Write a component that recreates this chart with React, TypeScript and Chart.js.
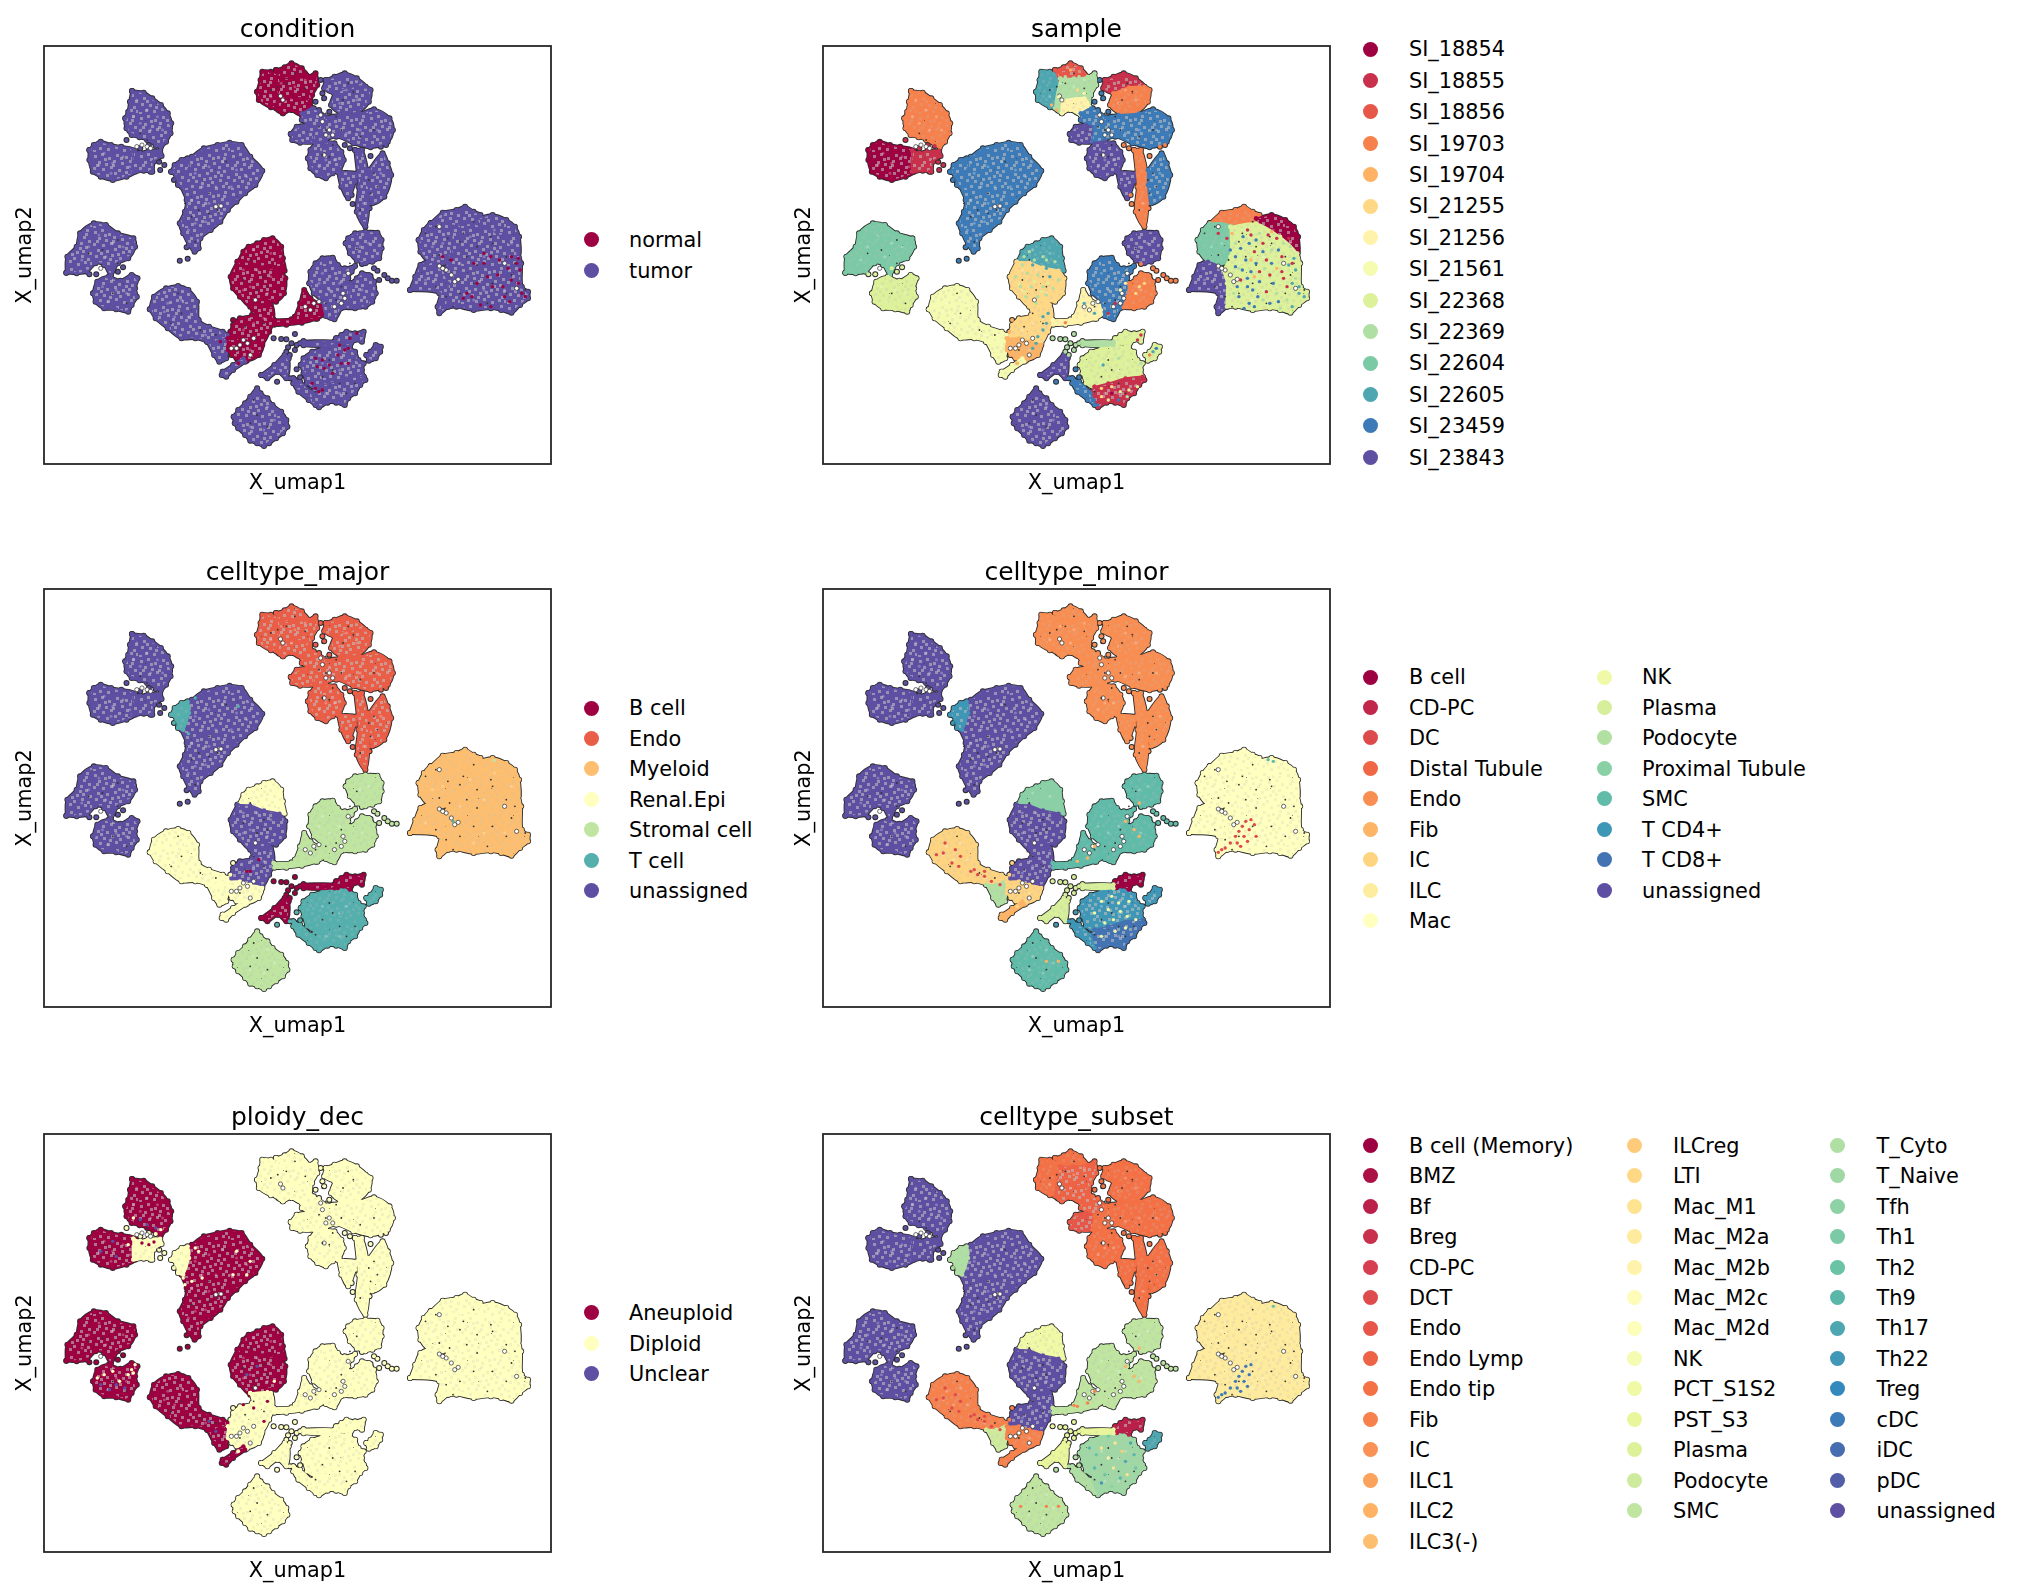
import React, { useEffect, useRef } from "react";
import { Chart, registerables } from "chart.js";

Chart.register(...registerables);

type P = number[];

// ---------- categories ----------
const conditionCats = ["normal", "tumor"];
const sampleCats = ["SI_18854", "SI_18855", "SI_18856", "SI_19703", "SI_19704", "SI_21255", "SI_21256", "SI_21561", "SI_22368", "SI_22369", "SI_22604", "SI_22605", "SI_23459", "SI_23843"];
const majorCats = ["B cell", "Endo", "Myeloid", "Renal.Epi", "Stromal cell", "T cell", "unassigned"];
const minorCats = ["B cell", "CD-PC", "DC", "Distal Tubule", "Endo", "Fib", "IC", "ILC", "Mac", "NK", "Plasma", "Podocyte", "Proximal Tubule", "SMC", "T CD4+", "T CD8+", "unassigned"];
const ploidyCats = ["Aneuploid", "Diploid", "Unclear"];
const subsetCats = ["B cell (Memory)", "BMZ", "Bf", "Breg", "CD-PC", "DCT", "Endo", "Endo Lymp", "Endo tip", "Fib", "IC", "ILC1", "ILC2", "ILC3(-)", "ILCreg", "LTI", "Mac_M1", "Mac_M2a", "Mac_M2b", "Mac_M2c", "Mac_M2d", "NK", "PCT_S1S2", "PST_S3", "Plasma", "Podocyte", "SMC", "T_Cyto", "T_Naive", "Tfh", "Th1", "Th2", "Th9", "Th17", "Th22", "Treg", "cDC", "iDC", "pDC", "unassigned"];

// ---------- cell-cloud silhouettes (UMAP plane, y downward) ----------
const tu1: P[] = [[296,183],[330,188],[355,205],[380,225],[400,250],[410,280],[408,310],[395,335],[380,352],[365,345],[340,330],[318,322],[295,315],[280,295],[276,265],[285,245],[290,215]];
const tu2a: P[] = [[172,360],[185,345],[205,335],[235,345],[265,350],[305,362],[305,425],[280,440],[240,450],[205,440],[182,425],[172,390]];
const tu2b: P[] = [[300,362],[320,368],[345,362],[378,362],[382,378],[360,395],[355,425],[330,422],[300,425]];
const tu3: P[] = [[440,405],[470,380],[505,355],[545,345],[580,338],[615,345],[640,380],[675,422],[655,465],[625,490],[600,515],[575,540],[553,575],[525,600],[495,625],[490,655],[478,665],[462,645],[445,610],[435,580],[450,545],[455,510],[440,470]];
const nub: P[] = [[410,425],[420,405],[440,390],[458,385],[462,420],[445,470],[430,465],[425,440]];
const tu4: P[] = [[105,728],[108,680],[135,650],[145,610],[185,580],[220,585],[255,610],[300,625],[305,650],[285,685],[255,700],[235,735],[215,705],[190,700],[165,725],[135,730]];
const tu5: P[] = [[183,790],[195,755],[228,740],[262,752],[295,735],[312,745],[305,775],[310,800],[295,825],[285,845],[250,838],[215,835],[190,815]];
const tu6a: P[] = [[348,838],[360,800],[395,775],[430,768],[460,780],[485,815],[490,870],[520,890],[560,905],[575,915],[570,935],[535,945],[515,935],[480,925],[440,925],[400,895],[365,865]];
const tu6b: P[] = [[515,935],[545,935],[572,925],[570,985],[550,995],[535,975]];
const k1: P[] = [[605,695],[620,665],[635,650],[660,640],[680,630],[705,625],[730,650],[735,685],[740,722],[700,715],[660,705],[630,697]];
const k2: P[] = [[603,695],[640,697],[680,712],[725,722],[742,745],[738,790],[715,815],[695,815],[700,835],[640,830],[610,800],[590,775],[583,740]];
const k3: P[] = [[640,825],[700,825],[708,870],[695,905],[675,940],[640,935],[610,925],[583,925],[590,885],[610,865],[645,855]];
const k4: P[] = [[575,925],[610,925],[640,935],[675,945],[665,975],[630,992],[600,985],[575,960]];
const k5: P[] = [[560,1025],[590,1005],[620,985],[625,995],[590,1020],[570,1040],[557,1035]];
const s1: P[] = [[708,870],[760,868],[795,860],[830,848],[830,866],[790,878],[745,884],[710,884]];
const s2: P[] = [[770,860],[785,820],[797,780],[815,805],[845,825],[860,845],[835,866],[800,868],[770,870]];
const s3: P[] = [[812,760],[815,725],[830,700],[850,685],[880,683],[895,705],[915,715],[945,708],[935,725],[925,745],[930,775],[925,800],[905,835],[885,868],[860,858],[848,815],[825,790]];
const s4: P[] = [[930,760],[950,745],[965,730],[985,735],[1000,755],[1005,790],[995,815],[975,830],[945,835],[915,832],[925,800]];
const s5: P[] = [[918,640],[925,625],[945,610],[975,605],[1010,608],[1022,630],[1022,655],[1015,685],[995,695],[975,700],[950,692],[930,670]];
const bot: P[] = [[592,1160],[605,1140],[625,1120],[640,1100],[660,1075],[670,1090],[690,1105],[705,1125],[730,1145],[745,1170],[748,1190],[735,1210],[715,1225],[695,1240],[680,1248],[660,1240],[640,1232],[625,1215],[605,1195],[595,1180]];
const t1a: P[] = [[787,1005],[795,985],[820,965],[850,955],[880,948],[920,950],[945,965],[955,990],[970,1000],[965,1020],[970,1040],[920,1050],[870,1065],[830,1075],[805,1060],[795,1030]];
const t1b: P[] = [[830,1070],[870,1060],[920,1045],[970,1040],[975,1050],[960,1065],[945,1090],[925,1105],[915,1125],[890,1118],[865,1118],[840,1132],[820,1110],[815,1095]];
const t2: P[] = [[765,1045],[785,1055],[815,1085],[830,1125],[810,1110],[780,1085],[765,1060]];
const b1: P[] = [[890,925],[905,915],[920,905],[945,910],[970,905],[965,935],[945,930],[930,950],[910,940],[895,945]];
const b2: P[] = [[795,934],[885,934],[885,946],[795,946]];
const b3: P[] = [[672,1035],[710,1005],[740,975],[752,985],[745,1045],[720,1026],[690,1045]];
const t3: P[] = [[978,975],[990,965],[1005,945],[1020,950],[1018,965],[1005,985],[985,992]];
const e1a: P[] = [[660,185],[670,150],[675,125],[700,125],[730,140],[735,190],[720,230],[700,232],[665,210]];
const e1b: P[] = [[715,120],[740,112],[760,100],[790,115],[810,145],[770,150],[730,150]];
const e1c: P[] = [[730,145],[770,145],[810,140],[830,130],[835,165],[820,195],[815,230],[790,255],[760,240],[735,225],[735,250],[715,235]];
const e1d: P[] = [[735,210],[800,205],[815,230],[790,255],[760,240],[735,250]];
const e2a: P[] = [[860,150],[885,140],[915,130],[950,145],[975,170],[930,175],[885,190],[855,175]];
const e2b: P[] = [[885,190],[930,172],[975,170],[990,180],[985,215],[955,245],[905,250],[875,225]];
const e3a: P[] = [[790,250],[820,235],[865,265],[880,300],[835,300],[805,282],[790,270]];
const e3b: P[] = [[758,312],[775,290],[805,285],[835,300],[830,335],[785,338],[762,330]];
const e3c: P[] = [[830,295],[865,262],[900,255],[960,250],[1000,238],[1045,265],[1055,300],[1040,335],[990,352],[940,340],[890,320],[860,330],[825,335]];
const e4: P[] = [[808,385],[815,360],[830,340],[860,335],[885,340],[905,365],[912,390],[900,420],[880,430],[860,445],[835,435],[815,415]];
const e5: P[] = [[895,425],[950,430],[945,455],[925,505],[905,470]];
const e6a: P[] = [[945,360],[965,360],[985,450],[985,520],[975,590],[950,545],[955,470]];
const e6b: P[] = [[985,420],[1025,370],[1040,400],[1050,435],[1030,500],[995,520],[985,465]];
const mTop: P[] = [[1165,580],[1200,548],[1240,540],[1265,530],[1290,545],[1310,555],[1300,590],[1230,595],[1180,600]];
const mRed: P[] = [[1300,565],[1345,555],[1385,570],[1410,590],[1422,620],[1420,680],[1370,640],[1310,610]];
const mLeft: P[] = [[1130,630],[1145,600],[1165,580],[1230,590],[1240,650],[1235,700],[1200,700],[1160,695],[1135,665]];
const mWedge: P[] = [[1105,780],[1120,740],[1135,705],[1160,695],[1200,715],[1230,770],[1235,800],[1215,830],[1190,850],[1185,830],[1190,790]];
const mMain: P[] = [[1225,590],[1300,580],[1370,620],[1420,670],[1428,700],[1430,770],[1448,785],[1448,805],[1425,825],[1400,848],[1370,840],[1340,835],[1290,840],[1240,830],[1215,830],[1215,760],[1205,720],[1225,680]];
const regions = [tu1, tu2a, tu2b, tu3, nub, tu4, tu5, tu6a, tu6b, k1, k2, k3, k4, k5, s1, s2, s3, s4, s5, bot, t1a, t1b, t2, b1, b2, b3, t3, e1a, e1b, e1c, e1d, e2a, e2b, e3a, e3b, e3c, e4, e5, e6a, e6b, mTop, mRed, mLeft, mWedge, mMain];

// category of each silhouette in each panel
const conditionCodes = [1,1,1,1,1,1,1,1,1, 0,0,0,0,1, 0,0,1,1,1,1, 1,1,1,1,1,1,1, 0,0,0,0, 1,1,1,1,1,1,1,1,1, 1,1,1,1,1];
const sampleCodes = [3,0,1,12,12,10,8,7,7, 11,5,5,4,7, 6,6,12,3,13,13, 8,1,12,8,9,13,8, 11,2,9,6, 1,3,12,13,12,13,13,3,12, 3,0,10,13,8];
const majorCodes = [6,6,6,6,5,6,6,3,3, 3,6,6,3,3, 4,4,4,4,4,4, 5,5,5,0,0,0,5, 1,1,1,1, 1,1,1,1,1,1,1,1,1, 2,2,2,2,2];
const minorCodes = [16,16,16,16,14,16,16,6,11, 12,16,16,6,5, 13,13,13,13,13,13, 14,15,14,0,10,10,14, 4,4,4,4, 4,4,4,4,4,4,4,4,4, 8,8,8,8,8];
const ploidyCodes = [0,0,1,0,1,0,0,0,0, 0,0,1,1,0, 1,1,1,1,1,1, 1,1,1,1,1,1,1, 1,1,1,1, 1,1,1,1,1,1,1,1,1, 1,1,1,1,1];
const subsetCodes = [39,39,39,39,27,39,39,9,25, 22,39,39,9,9, 26,26,26,26,26,26, 28,28,27,2,23,23,33, 8,8,7,7, 8,8,7,6,8,8,8,8,8, 17,17,17,17,17];

// stray cells and the silhouette whose category they take
const strayTu2: P[] = [[280,330],[320,355],[345,345],[378,420],[375,395],[390,405],[350,425],[365,348]];
const strayTu3: P[] = [[455,652],[435,692],[458,686]];
const strayTu5: P[] = [[172,733],[192,733],[255,725],[270,712],[240,715]];
const strayS: P[] = [[1000,715],[1010,722],[1015,750],[1030,735],[1040,745],[1052,752],[1066,752],[965,702],[990,738]];
const strayB: P[] = [[708,925],[730,927],[745,928],[770,912],[760,940],[775,945],[750,952],[745,965],[755,975],[785,940],[770,960]];
const strayT: P[] = [[775,1018],[785,1042],[768,1048],[718,1055],[755,1045],[800,1095]];
const strayE: P[] = [[990,378],[938,522],[935,495],[972,580],[987,535],[930,355],[915,345],[1020,350],[1035,345]];
const strayE3: P[] = [[845,150],[850,190],[830,215],[840,240],[870,245],[880,260],[825,235],[855,205]];
const strayK: P[] = [[590,870],[582,905],[575,950],[585,975],[600,960],[605,1000]];
const strayNub: P[] = [[418,450],[430,462]];
const strayGroups: [P[], number][] = [[strayTu2,2],[strayTu3,3],[strayTu5,6],[strayS,17],[strayB,24],[strayT,22],[strayE,38],[strayE3,35],[strayK,12],[strayNub,4]];

// cells shown inside the clouds: dark gaps, pale cells, white gaps
const gapCells: P[] = [[1180,590],[1215,625],[1250,635],[1290,575],[1340,620],[1345,640],[1270,680],[1300,705],[1220,690],[1190,675],[1385,680],[1410,700],[1400,735],[1385,790],[1345,760],[1290,760],[1250,790],[1210,800],[1180,770],[1230,830],[1330,820],[1440,780],[1150,610],[1260,610],[1300,650],[700,180],[720,170],[745,160],[770,130],[800,175],[850,210],[860,250],[890,260],[840,290],[860,300],[880,345],[850,375],[870,380],[925,160],[940,185],[910,210],[1000,300],[960,320],[905,300],[985,450],[1000,430],[990,490],[1010,470],[960,540],[640,690],[680,740],[660,780],[690,770],[620,750],[650,850],[680,880],[625,890],[610,960],[905,770],[890,810],[830,830],[860,820],[930,700],[950,655],[650,1110],[660,1155],[690,1190],[640,1180],[850,1040],[880,1020],[900,1060],[830,1085],[870,990],[920,1090],[945,1060],[340,330],[320,310],[210,660],[170,670],[255,630],[255,700],[240,790],[280,820],[450,520],[490,540],[520,550],[545,540],[470,560],[480,635],[570,395],[520,490],[430,790],[440,850],[410,880],[495,900],[540,915],[375,390]];
const paleCells: P[] = [[310,210],[340,240],[370,260],[320,280],[350,300],[385,300],[300,260],[215,370],[240,400],[270,380],[200,405],[235,430],[290,410],[480,430],[520,410],[560,395],[600,420],[630,440],[500,470],[540,470],[585,470],[470,510],[520,520],[480,580],[510,575],[460,600],[170,650],[200,615],[240,640],[270,650],[150,690],[220,680],[210,770],[250,780],[280,790],[225,815],[400,820],[440,810],[420,860],[460,860],[390,845],[510,915],[650,660],[700,670],[620,720],[660,720],[700,740],[640,770],[690,790],[620,780],[650,880],[620,900],[680,865],[640,960],[730,160],[770,170],[700,200],[760,210],[800,150],[920,180],[950,210],[900,220],[960,300],[1010,300],[920,310],[860,390],[840,410],[885,390],[1020,430],[1010,470],[970,520],[850,730],[870,780],[840,760],[900,760],[965,780],[960,650],[985,640],[650,1150],[690,1130],[680,1200],[640,1190],[710,1170],[850,1000],[900,1020],[920,1000],[860,1090],[900,1090],[1200,640],[1280,620],[1350,600],[1170,650],[1320,680],[1250,700],[1150,750],[1320,780],[1290,810],[1380,780],[1400,640]];
const whiteGaps: P[] = [[735,210],[728,198],[655,810],[620,930],[632,940],[1235,755],[1245,748],[1415,775],[1190,590],[855,375],[205,715],[340,350],[540,530],[555,528],[1380,700],[585,955],[825,820],[815,840],[840,815],[800,830],[885,830],[610,945],[600,955],[640,975],[650,925],[850,275],[870,300],[880,315],[845,255],[860,315],[910,790],[915,805],[905,820],[925,730],[310,350],[325,345],[350,355],[1210,720],[1225,735],[1190,708],[1200,715]];

// cells of other categories scattered on the clouds: x, y, category
const conditionSpecks: P[] = [[1340,680,0],[1365,690,0],[1400,680,0],[1420,685,0],[1415,700,0],[1430,790,0],[1440,800,0],[1425,720,0],[1390,715,0],[1360,735,0],[1330,740,0],[1300,760,0],[1270,790,0],[1285,800,0],[1320,700,0],[1345,770,0],[1375,770,0],[1400,750,0],[1395,815,0],[1340,830,0],[1310,825,0],[1260,805,0],[1380,800,0],[1420,760,0],[1290,700,0],[1320,670,0],[1200,680,0],[1225,690,0],[830,985,0],[850,990,0],[870,1005,0],[895,975,0],[915,960,0],[930,925,0],[950,910,0],[905,1000,0],[855,1015,0],[835,1010,0],[880,1030,0],[925,1000,0],[830,1075,0],[840,1085,0],[850,1080,0],[820,1060,0],[925,955,0],[900,945,0],[553,935,0]];
const sampleSpecks: P[] = [[1262,620,12],[1280,640,12],[1255,655,12],[1295,665,1],[1240,680,12],[1270,690,12],[1300,700,12],[1250,715,9],[1285,725,12],[1320,640,1],[1345,660,9],[1375,680,1],[1400,650,9],[1330,690,1],[1360,715,4],[1395,705,11],[1415,720,11],[1405,760,11],[1425,790,11],[1440,800,11],[1380,745,1],[1340,735,1],[1310,755,12],[1275,770,12],[1250,800,12],[1280,820,12],[1305,800,12],[1330,785,1],[1360,790,9],[1390,810,9],[1415,745,9],[1240,640,9],[1215,625,1],[1190,610,1],[1230,610,4],[1275,600,1],[1310,610,9],[1345,605,4],[1380,640,9],[1325,715,9],[1295,740,4],[1255,750,1],[1235,790,9],[1265,835,12],[1295,830,12],[1340,820,12],[1370,835,9],[1405,830,11],[1425,770,11],[1350,760,12],[1320,665,12],[1240,710,12],[1285,690,4],[1365,660,12],[1410,685,11],[1225,660,12],[1300,630,12],[1335,615,1],[1360,625,1],[1285,615,1],[1260,720,12],[1275,745,12],[1310,725,1],[1345,700,12],[1375,725,1],[1290,780,12],[1320,810,9],[1365,815,12],[1245,770,12],[1390,770,1],[1405,700,1],[1395,625,1],
[620,705,9],[650,705,11],[690,715,11],[720,710,11],[600,740,9],[635,730,9],[665,735,9],[700,740,11],[725,750,9],[615,770,9],[645,770,9],[680,770,9],[710,775,9],[630,800,9],[665,800,9],[690,795,9],[720,790,5],[660,820,9],[655,690,9],[625,680,9],[690,690,9],[640,665,9],[680,680,9],[715,695,9],[610,760,8],[655,755,8],[695,760,8],[625,785,8],[675,785,8],[605,725,5],[735,770,5],[680,860,11],[690,880,11],[680,900,11],[665,920,11],[695,850,11],[660,940,11],[650,955,11],[640,905,5],[600,905,5],
[830,1110,12],[840,1125,12],[820,1090,12],[850,1100,5],[880,1070,5],[905,1085,8],[930,1080,8],[945,1060,1],[960,1045,1],[870,1110,8],[900,1110,12],[925,1100,9],[850,1075,5],[880,1090,0],[955,1070,8],[965,1000,9],[855,1005,11],[900,985,9],
[700,170,11],[750,170,9],[740,130,2],[785,140,9],[760,120,4],[745,140,9],[780,180,5],[800,190,6],[770,215,6],[750,230,6],[720,240,4],[705,225,4],[725,200,6],
[920,760,6],[905,780,6],[890,820,1],[870,850,1],[850,840,6],[800,820,11],[830,850,11],[745,878,3],[770,870,6],[960,770,5],[975,760,5],[950,790,5],[1000,965,11],[990,975,3],[1010,955,12],[955,930,1],[965,915,1]];
const majorSpecks: P[] = [[480,375,5],[460,482,5],[605,400,5],[640,895,0],[665,860,0],[630,895,0],[1350,562,4],[1230,745,5]];
const minorSpecks: P[] = [[1270,745,2],[1260,760,2],[1280,770,2],[1250,775,2],[1240,790,2],[1265,790,2],[1245,810,2],[1275,805,2],[1255,820,2],[1225,810,2],[1295,755,2],[1300,790,2],[1285,740,2],[1200,830,2],[1190,838,2],[1210,825,2],[1350,565,13],[1335,560,13],[390,840,2],[415,870,2],[435,880,2],[395,810,2],[480,890,2],[490,905,2],[510,910,2],[530,925,2],[555,935,2],[370,845,2],[440,850,2],[425,830,2],[470,895,2],[510,895,2],[850,985,9],[880,970,9],[900,990,9],[870,1010,9],[905,1015,9],[885,1040,9],[925,1030,9],[950,1040,9],[860,1050,9],[830,1020,9],[930,985,9],[920,1065,9],[890,1075,9],[850,1090,9],[920,745,5],[945,770,5],[960,790,5],[830,820,5],[810,855,5],[780,865,5],[690,1165,5],[725,1165,5],[960,690,5]];
const ploidySpecks: P[] = [[215,770,1],[240,760,1],[260,790,1],[285,770,1],[205,800,2],[230,815,2],[250,800,2],[295,755,1],[275,810,2],[300,765,1],[305,740,1],[195,780,1],[445,480,1],[470,490,1],[450,500,1],[490,400,1],[500,480,1],[590,470,1],[600,400,1],[640,430,1],[630,470,1],[480,390,1],[320,305,2],[340,320,2],[365,330,2],[380,335,1],[300,300,1],[240,370,2],[250,415,2],[205,400,2],[285,380,1],[690,820,1],[660,745,2],[710,790,1],[630,770,2],[690,850,0],[650,870,0],[680,910,0],[620,860,0],[520,910,2],[540,940,2],[325,375,0],[345,380,0],[360,372,0]];
const subsetSpecks: P[] = [[1270,745,36],[1260,760,36],[1280,770,36],[1250,775,36],[1240,790,36],[1265,790,36],[1245,810,36],[1275,805,36],[1255,820,36],[1225,810,36],[1285,740,36],[1200,830,36],[1190,838,36],[1210,825,36],[1350,565,31],[390,840,5],[415,870,5],[435,880,5],[395,810,5],[480,890,5],[490,905,5],[510,910,5],[530,925,5],[555,935,5],[370,845,5],[440,850,5],[425,830,5],[470,895,5],[510,895,5],[850,990,16],[890,975,16],[910,1000,14],[870,1020,18],[835,1010,31],[920,1030,33],[945,1010,32],[885,1050,16],[860,1070,31],[905,1080,32],[850,1095,34],[925,1070,16],[830,1050,32],[880,1105,29],[950,1050,31],[815,990,32],[870,955,30],[935,975,33],[920,745,12],[945,775,12],[960,790,12],[830,820,9],[810,855,9],[780,865,9],[770,862,9],[690,1165,9],[725,1165,9],[615,1165,9],[960,690,12]];

// texture of overplotted cells, a style tile for the cloud fills
const grainSpots: P[] = [[2,3],[9,1],[16,5],[24,2],[33,4],[40,1],[6,9],[13,11],[21,8],[29,10],[37,8],[42,12],[1,15],[10,16],[18,14],[26,17],[34,14],[39,18],[5,21],[14,22],[22,20],[30,23],[36,22],[43,24],[3,27],[11,28],[19,26],[27,29],[35,27],[41,30],[7,33],[15,34],[23,32],[31,35],[38,33],[1,36],[12,6],[20,12],[28,5],[8,24],[17,30],[25,25],[33,19],[4,12],[39,5],[44,34]];
const grainDark: P[] = [[7,6],[31,17],[18,27]];

// ---------- drawing helpers ----------
const SPECTRAL = ["#9e0142","#d53e4f","#f46d43","#fdae61","#fee08b","#ffffbf","#e6f598","#abdda4","#66c2a5","#3288bd","#5e4fa2"];
function hexRgb(h: string) { return [1,3,5].map((i) => parseInt(h.slice(i, i + 2), 16)); }
function spectralRgb(i: number, n: number) {
  const t = n > 1 ? (i / (n - 1)) * 10 : 0;
  const a = Math.min(Math.floor(t), 9);
  const f = t - a;
  const A = hexRgb(SPECTRAL[a]), B = hexRgb(SPECTRAL[a + 1]);
  return A.map((v, k) => Math.round(v + (B[k] - v) * f));
}
function spectral(i: number, n: number) {
  const c = spectralRgb(i, n);
  return `rgb(${c[0]},${c[1]},${c[2]})`;
}
function grainTile(rgb: number[]) {
  const tile = document.createElement("canvas");
  tile.width = 46; tile.height = 38;
  const c = tile.getContext("2d") as CanvasRenderingContext2D;
  c.fillStyle = `rgb(${rgb.join(",")})`;
  c.fillRect(0, 0, 46, 38);
  const lum = (0.3 * rgb[0] + 0.59 * rgb[1] + 0.11 * rgb[2]) / 255;
  c.fillStyle = `rgba(190,190,190,${lum < 0.55 ? 0.6 : 0.2})`;
  grainSpots.forEach(([x, y]) => c.fillRect(x, y, 3, 3));
  c.fillStyle = "rgba(50,50,50,0.55)";
  grainDark.forEach(([x, y]) => c.fillRect(x, y, 1, 1));
  return c.createPattern(tile, "repeat") as CanvasPattern;
}
const xy = (pts: P[]) => pts.map((p) => ({ x: p[0], y: p[1] }));
const closed = (pts: P[]) => xy([...pts, pts[0]]);
const OUTLINE = "#2b2b2b";
const FONT = "'DejaVu Sans', sans-serif";

const frame = {
  id: "frame",
  afterDatasetsDraw(chart: any) {
    const { ctx, chartArea: a } = chart;
    ctx.save();
    ctx.strokeStyle = "#262626";
    ctx.lineWidth = 1.8;
    ctx.strokeRect(a.left, a.top, a.right - a.left, a.bottom - a.top);
    ctx.restore();
  },
};

function buildDatasets(codes: number[], specks: P[], n: number) {
  const colors: string[] = [];
  const patterns: CanvasPattern[] = [];
  for (let i = 0; i < n; i++) { colors.push(spectral(i, n)); patterns.push(grainTile(spectralRgb(i, n))); }
  const list: any[] = [];
  regions.forEach((r) => list.push({ data: closed(r), showLine: true, fill: false, borderColor: OUTLINE, borderWidth: 3.4, pointRadius: 3.0, pointBackgroundColor: OUTLINE, pointBorderWidth: 0 }));
  strayGroups.forEach(([pts]) => list.push({ data: xy(pts), showLine: false, pointRadius: 3.0, pointBackgroundColor: OUTLINE, pointBorderWidth: 0 }));
  regions.forEach((r, i) => {
    const c = colors[codes[i]];
    list.push({ data: closed(r), showLine: true, fill: "shape", backgroundColor: patterns[codes[i]], borderColor: c, borderWidth: 1.6, pointRadius: 2.2, pointBackgroundColor: c, pointBorderWidth: 0 });
  });
  strayGroups.forEach(([pts, host]) => list.push({ data: xy(pts), showLine: false, pointRadius: 2.0, pointBackgroundColor: colors[codes[host]], pointBorderWidth: 0 }));
  list.push({ data: xy(whiteGaps), showLine: false, pointRadius: 2.1, pointBackgroundColor: "#ffffff", pointBorderColor: OUTLINE, pointBorderWidth: 0.7 });
  list.push({ data: xy(paleCells), showLine: false, pointRadius: 1.5, pointBackgroundColor: "rgba(255,255,255,0.25)", pointBorderWidth: 0 });
  list.push({ data: xy(gapCells), showLine: false, pointRadius: 0.9, pointBackgroundColor: "#333333", pointBorderWidth: 0 });
  list.push({ data: xy(specks), showLine: false, pointRadius: 1.7, pointBackgroundColor: specks.map((s) => colors[s[2]]), pointBorderWidth: 0 });
  const total = list.length;
  return list.map((d, i) => ({ ...d, order: total - i, tension: d.showLine ? 0.35 : 0 }));
}

const PANEL_W = 507;
const PANEL_H = 418;
const PAD_L = 44;
const PAD_T = 46;
const PAD_B = 38;

function Panel({ title, left, top, codes, specks, cats }: any) {
  const ref = useRef<HTMLCanvasElement>(null);
  useEffect(() => {
    const chart = new Chart(ref.current as HTMLCanvasElement, {
      type: "scatter",
      data: { datasets: buildDatasets(codes, specks, cats.length) },
      plugins: [frame],
      options: {
        animation: false,
        responsive: false,
        devicePixelRatio: 1,
        layout: { padding: { left: 0, right: 6, top: 0, bottom: 0 } },
        plugins: {
          legend: { display: false },
          tooltip: { enabled: false },
          title: { display: true, fullSize: false, text: title, color: "#000", font: { family: FONT, size: 25, weight: "normal", lineHeight: 1.2 }, padding: { top: 15, bottom: 1 } },
        },
        scales: {
          x: {
            type: "linear", min: 40, max: 1515,
            grid: { display: false }, border: { display: false }, ticks: { display: false },
            title: { display: true, text: "X_umap1", color: "#000", font: { family: FONT, size: 20.83, lineHeight: 1.2 }, padding: { top: 0, bottom: 5.5 } },
            afterFit: (s: any) => { s.height = PAD_B; },
          },
          y: {
            type: "linear", min: 48, max: 1302, reverse: true,
            grid: { display: false }, border: { display: false }, ticks: { display: false },
            title: { display: true, text: "X_umap2", color: "#000", font: { family: FONT, size: 20.83, lineHeight: 1.2 }, padding: { top: 13.5, bottom: 0 } },
            afterFit: (s: any) => { s.width = PAD_L; },
          },
        },
      } as any,
    });
    return () => chart.destroy();
  }, []);
  return (
    <canvas
      ref={ref}
      width={PAD_L + PANEL_W + 6}
      height={PAD_T + PANEL_H + PAD_B}
      style={{ position: "absolute", left: left - PAD_L, top: top - PAD_T, display: "block" }}
    />
  );
}

function Legend({ cats, columns, y0, step }: any) {
  const n = cats.length;
  let idx = 0;
  const items: any[] = [];
  columns.forEach((col: any) => {
    for (let r = 0; r < col.rows; r++, idx++) {
      const y = y0 + r * step;
      items.push(
        <React.Fragment key={idx}>
          <span style={{ position: "absolute", left: col.marker - 7.5, top: y - 7.5, width: 15, height: 15, borderRadius: "50%", background: spectral(idx, n) }} />
          <span style={{ position: "absolute", left: col.text, top: y - 12.6, lineHeight: "26px", fontFamily: FONT, fontSize: 20.83, color: "#000", whiteSpace: "pre" }}>{cats[idx]}</span>
        </React.Fragment>
      );
    }
  });
  return <>{items}</>;
}

const ROW_TOPS = [46, 589, 1134];
const COL_LEFTS = [44, 823];

export default function App() {
  return (
    <div style={{ position: "absolute", left: 0, top: 0, width: 2017, height: 1596, overflow: "hidden", background: "#fff", filter: "blur(0.45px)" }}>
      <Panel title="condition" left={COL_LEFTS[0]} top={ROW_TOPS[0]} codes={conditionCodes} specks={conditionSpecks} cats={conditionCats} />
      <Panel title="sample" left={COL_LEFTS[1]} top={ROW_TOPS[0]} codes={sampleCodes} specks={sampleSpecks} cats={sampleCats} />
      <Panel title="celltype_major" left={COL_LEFTS[0]} top={ROW_TOPS[1]} codes={majorCodes} specks={majorSpecks} cats={majorCats} />
      <Panel title="celltype_minor" left={COL_LEFTS[1]} top={ROW_TOPS[1]} codes={minorCodes} specks={minorSpecks} cats={minorCats} />
      <Panel title="ploidy_dec" left={COL_LEFTS[0]} top={ROW_TOPS[2]} codes={ploidyCodes} specks={ploidySpecks} cats={ploidyCats} />
      <Panel title="celltype_subset" left={COL_LEFTS[1]} top={ROW_TOPS[2]} codes={subsetCodes} specks={subsetSpecks} cats={subsetCats} />
      <Legend cats={conditionCats} columns={[{ marker: 591, text: 629, rows: 2 }]} y0={239.4} step={30.9} />
      <Legend cats={sampleCats} columns={[{ marker: 1370, text: 1409, rows: 14 }]} y0={49} step={31.4} />
      <Legend cats={majorCats} columns={[{ marker: 591, text: 629, rows: 7 }]} y0={708} step={30.46} />
      <Legend cats={minorCats} columns={[{ marker: 1370, text: 1409, rows: 9 }, { marker: 1604, text: 1642, rows: 8 }]} y0={677} step={30.46} />
      <Legend cats={ploidyCats} columns={[{ marker: 591, text: 629, rows: 3 }]} y0={1312.7} step={30.46} />
      <Legend cats={subsetCats} columns={[{ marker: 1370, text: 1409, rows: 14 }, { marker: 1634, text: 1673, rows: 13 }, { marker: 1837, text: 1876.5, rows: 13 }]} y0={1145.3} step={30.46} />
    </div>
  );
}
